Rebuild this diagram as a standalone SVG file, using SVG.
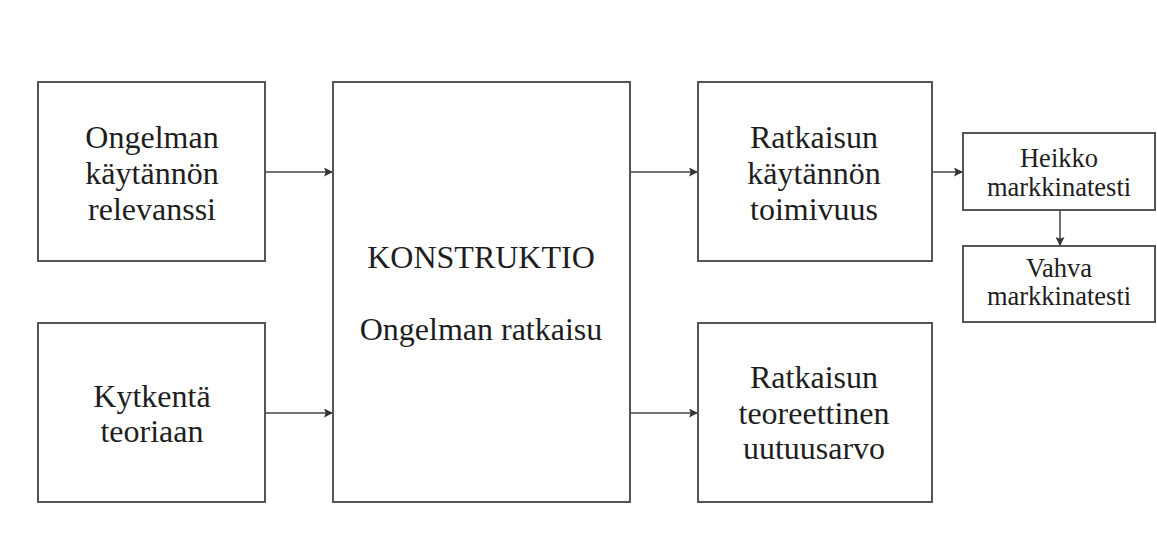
<svg xmlns="http://www.w3.org/2000/svg" width="1157" height="560" viewBox="0 0 1157 560">
  <style>
    .box { fill: #ffffff; stroke: #555555; stroke-width: 2; }
    .lbl { font-family: "Liberation Serif", "Times New Roman", serif; fill: #1e1e1e; text-anchor: middle; }
    .big { font-size: 32px; }
    .small { font-size: 26.5px; }
    .edge { fill: none; stroke: #444444; stroke-width: 1.5; marker-end: url(#arrow); }
  </style>
  <defs>
    <marker id="arrow" viewBox="0 0 10 10" refX="10" refY="5" markerWidth="9" markerHeight="9" markerUnits="userSpaceOnUse" orient="auto">
      <path d="M0,0 L10,5 L0,10 L2,5 Z" fill="#333333"/>
    </marker>
  </defs>
  <rect width="1157" height="560" fill="#ffffff"/>

  <g id="edges">
    <line class="edge" x1="265" y1="172" x2="333" y2="172"/>
    <line class="edge" x1="265" y1="413" x2="333" y2="413"/>
    <line class="edge" x1="630" y1="172" x2="698" y2="172"/>
    <line class="edge" x1="630" y1="413" x2="698" y2="413"/>
    <line class="edge" x1="932" y1="172" x2="963" y2="172"/>
    <line class="edge" x1="1060" y1="210" x2="1060" y2="246"/>
  </g>

  <g id="relevanssi">
    <rect class="box" x="38" y="82" width="227" height="179"/>
    <text class="lbl big" x="152" y="148">Ongelman</text>
    <text class="lbl big" x="152" y="184">käytännön</text>
    <text class="lbl big" x="152" y="220">relevanssi</text>
  </g>

  <g id="kytkenta">
    <rect class="box" x="38" y="323" width="227" height="179"/>
    <text class="lbl big" x="152" y="407">Kytkentä</text>
    <text class="lbl big" x="152" y="442">teoriaan</text>
  </g>

  <g id="konstruktio">
    <rect class="box" x="333" y="82" width="297" height="420"/>
    <text class="lbl big" x="481" y="268">KONSTRUKTIO</text>
    <text class="lbl big" x="481" y="340">Ongelman ratkaisu</text>
  </g>

  <g id="toimivuus">
    <rect class="box" x="698" y="82" width="234" height="179"/>
    <text class="lbl big" x="814" y="148">Ratkaisun</text>
    <text class="lbl big" x="814" y="184">käytännön</text>
    <text class="lbl big" x="814" y="220">toimivuus</text>
  </g>

  <g id="uutuusarvo">
    <rect class="box" x="698" y="323" width="234" height="179"/>
    <text class="lbl big" x="814" y="388">Ratkaisun</text>
    <text class="lbl big" x="814" y="424">teoreettinen</text>
    <text class="lbl big" x="814" y="459">uutuusarvo</text>
  </g>

  <g id="heikko">
    <rect class="box" x="963" y="133" width="192" height="77"/>
    <text class="lbl small" x="1059" y="167">Heikko</text>
    <text class="lbl small" x="1059" y="196">markkinatesti</text>
  </g>

  <g id="vahva">
    <rect class="box" x="963" y="246" width="192" height="76"/>
    <text class="lbl small" x="1059" y="277">Vahva</text>
    <text class="lbl small" x="1059" y="305">markkinatesti</text>
  </g>
</svg>
